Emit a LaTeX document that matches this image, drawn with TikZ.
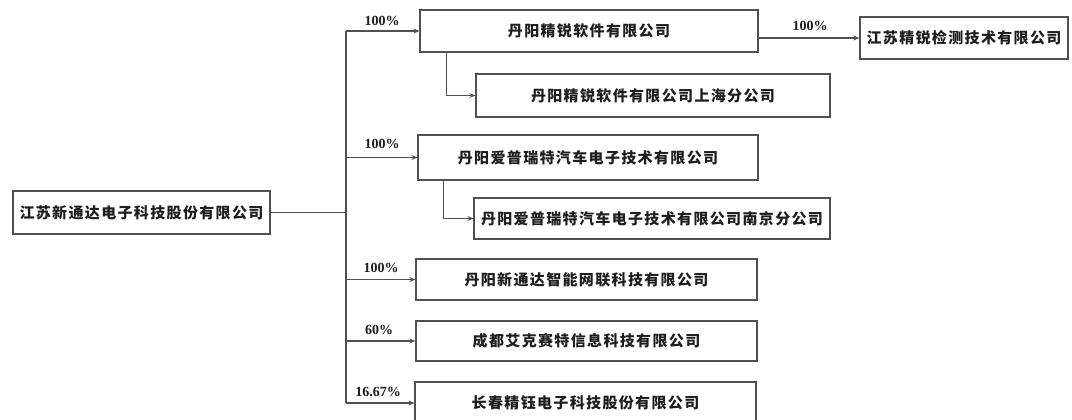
\documentclass[tikz,border=0pt]{standalone}
\usepackage{fontspec}
\newfontfamily\cjk[LetterSpace=9]{Noto Sans CJK SC}
\newfontfamily\pctfont{Liberation Serif}
\usetikzlibrary{arrows.meta}
\definecolor{boxc}{HTML}{505050}
\definecolor{txt}{HTML}{1E1E1E}
\begin{document}
\begin{tikzpicture}[x=1pt,y=-1pt,
  box/.style={draw=boxc, line width=1.2pt, inner sep=0pt, minimum height=42pt,
    font=\cjk\bfseries\fontsize{15}{16}\selectfont, text=txt},
  conn/.style={draw=boxc, line width=1.2pt},
  arr/.style={conn, -{Stealth[length=6pt,width=5pt]}},
  pct/.style={font=\pctfont\bfseries\fontsize{14}{15}\selectfont, text=txt, inner sep=0pt}]
\useasboundingbox (0,0) rectangle (1072,420);
\clip (0,0) rectangle (1072,420);
\fill[white] (0,0) rectangle (1072,420);
% boxes
\node[box, minimum width=257pt, minimum height=43pt] (root) at (141.5,212.5) {江苏新通达电子科技股份有限公司};
\node[box, minimum width=338pt] (b1) at (589,31) {丹阳精锐软件有限公司};
\node[box, minimum width=208pt] (ext) at (964,38) {江苏精锐检测技术有限公司};
\node[box, minimum width=354pt, minimum height=43pt] (b1a) at (653,95.5) {丹阳精锐软件有限公司上海分公司};
\node[box, minimum width=340pt, minimum height=45pt] (b2) at (588,157.5) {丹阳爱普瑞特汽车电子技术有限公司};
\node[box, minimum width=356pt, minimum height=41pt] (b2a) at (652,218.5) {丹阳爱普瑞特汽车电子技术有限公司南京分公司};
\node[box, minimum width=341pt, minimum height=41pt] (b3) at (586.5,279.5) {丹阳新通达智能网联科技有限公司};
\node[box, minimum width=341pt, minimum height=40pt] (b4) at (586.5,341) {成都艾克赛特信息科技有限公司};
\node[box, minimum width=341pt, minimum height=42pt] (b5) at (585.5,403) {长春精钰电子科技股份有限公司};
% trunk
\coordinate (tt) at (346,0);
\draw[conn] (root.east) -- (root.east -| tt);
\draw[conn] (b1.west -| tt) -- (b5.west -| tt);
\draw[arr] (b1.west -| tt) -- (b1.west);
\draw[arr] (b2.west -| tt) -- (b2.west);
\draw[arr] (b3.west -| tt) -- (b3.west);
\draw[arr] (b4.west -| tt) -- (b4.west);
\draw[arr] (b5.west -| tt) -- (b5.west);
\draw[arr] ([xshift=27pt]b1.south west) |- (b1a.west);
\draw[arr] ([xshift=26pt]b2.south west) |- (b2a.west);
\draw[arr] (ext.west -| b1.east) -- (ext.west);
% labels
\node[pct] (l1) at (382,21) {100\%};
\node[pct] (l1e) at (810,26) {100\%};
\node[pct] (l2) at (382,144) {100\%};
\node[pct] (l3) at (381,268) {100\%};
\node[pct] (l4) at (379,330) {60\%};
\node[pct] (l5) at (378,392) {16.67\%};
\end{tikzpicture}
\end{document}
